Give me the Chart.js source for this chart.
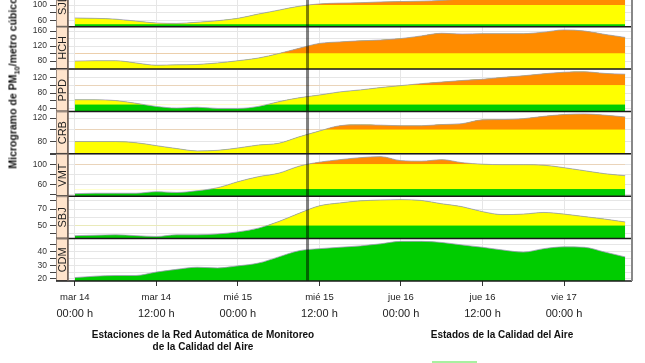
<!DOCTYPE html>
<html lang="es">
<head>
<meta charset="utf-8">
<title>PM10 por estación</title>
<script src="https://cdn.jsdelivr.net/npm/chart.js@4.4.1/dist/chart.umd.min.js"></script>
<style>
  html, body { margin: 0; padding: 0; background: #fff; overflow: hidden; }
  #wrap { position: relative; width: 645px; height: 363px; font-family: "Liberation Sans", Arial, "DejaVu Sans", sans-serif; color: #111; }
  #chart { position: absolute; left: 0; top: 0; }
  .ytitle { position: absolute; left: 14px; top: 83px; transform: translate(-50%, -50%) rotate(-90deg); white-space: nowrap; font-weight: bold; font-size: 10.5px; }
  .ytitle sub { font-size: 7.5px; }
  .caption { position: absolute; top: 329px; font-weight: bold; font-size: 10px; line-height: 12px; text-align: center; white-space: nowrap; transform: translateX(-50%); }
  .legend-box { position: absolute; left: 432px; top: 361px; width: 45px; height: 10px; background: #a8f0a0; }
</style>
</head>
<body>
<div id="wrap">
  <canvas id="chart" width="645" height="363"></canvas>
  <div class="ytitle">Microgramo de PM<sub>10</sub>/metro cúbico</div>
  <div class="caption" style="left:203px">Estaciones de la Red Automática de Monitoreo<br>de la Calidad del Aire</div>
  <div class="caption" style="left:502px">Estados de la Calidad del Aire</div>
  <div class="legend-box"></div>
</div>
<script>
// hours since mar 14 00:00, one reading every 3 h
const hours = [0, 3, 6, 9, 12, 15, 18, 21, 24, 27, 30, 33, 36, 39, 42, 45, 48, 51, 54, 57, 60, 63, 66, 69, 72, 75, 78, 81];

// PM10 per station (µg/m³)
const sjl = [67, 66, 64, 59, 54, 53, 56, 60, 66, 77, 87, 97, 103, 105, 106, 108, 109, 110, 112, 116, 120, 122, 124, 127, 130, 128, 125, 122];
const hch = [80, 81, 81, 75, 69, 70, 71, 75, 81, 88, 100, 114, 127, 131, 134, 136, 140, 147, 154, 152, 153, 153, 153, 157, 163, 160, 151, 143];
const ppd = [63, 63, 61, 54, 46, 42, 44, 41, 41, 46, 58, 68, 75, 83, 88, 94, 99, 104, 108, 112, 115, 120, 124, 129, 133, 134, 130, 128];
const crb = [80, 80, 80, 78, 73, 68, 64, 65, 69, 74, 77, 88, 98, 107, 108.5, 108, 107, 107, 109, 110.5, 117, 117.5, 119, 123, 126, 127, 125, 122];
const vmt = [41, 42, 42, 42, 45, 43.5, 47, 53, 65, 75, 82, 96, 104, 109, 113, 115, 107, 106, 109, 103, 100, 99, 99, 98, 93, 87, 81, 77];
const sbj = [38, 38.5, 39, 38, 37, 39, 39, 40, 42.5, 47, 55, 65, 74, 77.5, 80, 81, 81.5, 80.5, 76.5, 73, 67, 63.4, 64, 66, 64, 61, 58, 54.5];
const cdm = [21, 22, 22.5, 22.5, 25, 27, 28.5, 28, 29.5, 31.5, 36, 40.5, 42, 43, 44, 45.5, 47.3, 47.3, 46.5, 44.7, 43, 41, 39.5, 42, 43.3, 43, 39.5, 36];

const stations = ['SJL', 'HCH', 'PPD', 'CRB', 'VMT', 'SBJ', 'CDM'];
const seriesValues = [sjl, hch, ppd, crb, vmt, sbj, cdm];

// free y scale of every panel
const axisMin = [44.6, 58.7, 33.2, 59, 36, 34.4, 18.5];
const axisMax = [113, 171.5, 141, 131.3, 120.6, 85.6, 49.3];
const tickStep = [20, 20, 20, 20, 20, 10, 5];
const labelBase = [60, 80, 40, 80, 60, 50, 20];
const panelWeight = [0.63, 1, 1, 1, 1, 1, 1];   // top panel is cut by the picture edge

// x ticks
const tickHours = [0, 12, 24, 36, 48, 60, 72];
const dayLabels = ['mar 14', 'mar 14', 'mié 15', 'mié 15', 'jue 16', 'jue 16', 'vie 17'];
const timeLabels = ['00:00 h', '12:00 h', '00:00 h', '12:00 h', '00:00 h', '12:00 h', '00:00 h'];
const nowHour = 34.25;

// air quality limits: buena < 50 < regular < 100 < mala
const limits = [50, 100];
const GREEN = '#00cc00', YELLOW = '#ffff00', ORANGE = '#ff8c00', NONE = 'rgba(0,0,0,0)';

const datasets = [];
stations.forEach(function(st, i) {
    const points = hours.map((h, k) => ({ x: h, y: seriesValues[i][k] }));
    const base = { data: points, xAxisID: 'x', yAxisID: 'y' + i, pointRadius: 0, cubicInterpolationMode: 'monotone' };
    // first dataset is painted last, so the outline goes on top
    datasets.push(Object.assign({}, base, { label: st, borderColor: 'rgba(160,150,185,0.75)', borderWidth: 1, fill: false }));
    datasets.push(Object.assign({}, base, { label: st + ' mala', borderWidth: 0,
        fill: { target: { value: limits[1] }, above: ORANGE, below: NONE } }));
    datasets.push(Object.assign({}, base, { label: st + ' regular', borderWidth: 0,
        fill: { target: { value: Math.max(limits[0], axisMin[i]) }, above: YELLOW, below: NONE } }));
    datasets.push(Object.assign({}, base, { label: st + ' buena', borderWidth: 0, backgroundColor: GREEN, fill: 'start' }));
});

const scales = {
    x: {
        type: 'linear', position: 'bottom', min: -1, max: 82,
        afterBuildTicks: s => { s.ticks = tickHours.map(v => ({ value: v })); },
        ticks: { autoSkip: false, maxRotation: 0, padding: 6, color: '#222', font: { size: 9.5 },
                 callback: (v, idx) => dayLabels[idx] },
        grid: { color: '#e6e6e6', tickLength: 5, tickColor: '#333' },
        border: { display: false },
        afterFit: s => { s.height = 24; s.paddingLeft = 0; s.paddingRight = 0; }
    },
    x2: {
        type: 'linear', position: 'bottom', min: -1, max: 82,
        afterBuildTicks: s => { s.ticks = tickHours.map(v => ({ value: v })); },
        ticks: { autoSkip: false, maxRotation: 0, padding: 2, color: '#222', font: { size: 11 },
                 callback: (v, idx) => timeLabels[idx] },
        grid: { drawOnChartArea: false, drawTicks: false },
        border: { display: false },
        afterFit: s => { s.height = 58; s.paddingLeft = 0; s.paddingRight = 0; }
    }
};
stations.forEach(function(st, i) {
    scales['y' + i] = {
        type: 'linear', position: 'left', stack: 'panels', stackWeight: panelWeight[i],
        weight: stations.length - i,
        min: axisMin[i], max: axisMax[i],
        border: { display: false },
        grid: { color: '#e6e6e6', tickLength: 18, tickColor: '#444' },
        ticks: { stepSize: tickStep[i], includeBounds: false, autoSkip: false, padding: 3, color: '#333', font: { size: 8.5 },
                 callback: v => ((Math.round(v) - labelBase[i]) % (2 * tickStep[i]) === 0 ? v : '') },
        afterFit: s => { s.width = 68; s.paddingTop = 0; s.paddingBottom = 0; }
    };
});

// strips, frame and the "now" marker
const panelDecor = {
    id: 'panelDecor',
    afterDatasetsDraw(chart) {
        const ctx = chart.ctx, area = chart.chartArea;
        const x = chart.scales.x.getPixelForValue(nowHour);
        ctx.save();
        ctx.strokeStyle = 'rgba(0,0,0,0.5)';
        ctx.lineWidth = 3;
        ctx.beginPath();
        ctx.moveTo(x, area.top);
        ctx.lineTo(x, area.bottom);
        ctx.stroke();
        ctx.restore();
    },
    afterDraw(chart) {
        const ctx = chart.ctx, area = chart.chartArea;
        ctx.save();
        stations.forEach(function(st, i) {
            const ys = chart.scales['y' + i];
            const h = ys.bottom - ys.top;
            ctx.fillStyle = '#ffe4cc';
            ctx.fillRect(area.left - 12, ys.top, 12, h);
            ctx.strokeStyle = '#9a8a80';
            ctx.lineWidth = 1;
            ctx.strokeRect(area.left - 11.5, ys.top + 0.5, 11, h - 1);
            const mid = ys.bottom - h / panelWeight[i] / 2;
            ctx.save();
            ctx.translate(area.left - 5.5, mid);
            ctx.rotate(-Math.PI / 2);
            ctx.fillStyle = '#222';
            ctx.font = '11px "Liberation Sans", Arial, sans-serif';
            ctx.textAlign = 'center';
            ctx.textBaseline = 'middle';
            ctx.fillText(st, 0, 0.5);
            ctx.restore();
            // panel separator
            ctx.strokeStyle = '#1a1a1a';
            ctx.lineWidth = 1.5;
            ctx.beginPath();
            ctx.moveTo(area.left - 12, ys.bottom);
            ctx.lineTo(area.right, ys.bottom);
            ctx.stroke();
        });
        ctx.strokeStyle = '#6a5a50';
        ctx.lineWidth = 1.5;
        ctx.beginPath();
        ctx.moveTo(area.left, area.top);
        ctx.lineTo(area.left, area.bottom);
        ctx.stroke();
        ctx.strokeStyle = '#888';
        ctx.lineWidth = 2;
        ctx.beginPath();
        ctx.moveTo(area.right, area.top);
        ctx.lineTo(area.right, area.bottom);
        ctx.stroke();
        ctx.restore();
    }
};

new Chart(document.getElementById('chart').getContext('2d'), {
    type: 'line',
    data: { datasets: datasets },
    options: {
        responsive: false,
        animation: false,
        events: [],
        layout: { padding: { left: 0, right: 13, top: 0, bottom: 0 } },
        scales: scales,
        plugins: { legend: { display: false }, tooltip: { enabled: false } }
    },
    plugins: [panelDecor]
});
</script>
</body>
</html>
